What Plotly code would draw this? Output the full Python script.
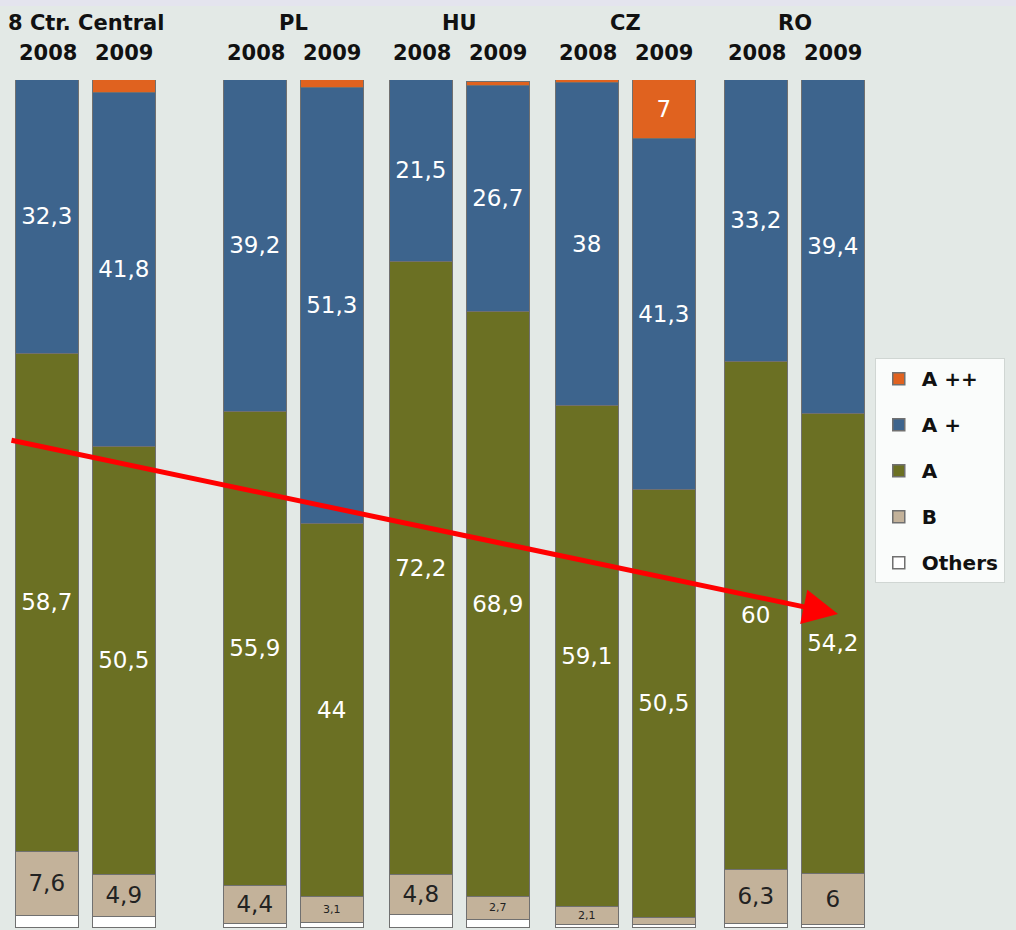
import plotly.graph_objects as go

groups = ["8 Ctr. Central", "PL", "HU", "CZ", "RO"]
years = ["2008", "2009"]

others = [1.4, 1.3, 0.5, 0.6, 1.5, 1.0, 0.4, 0.3, 0.5, 0.4]
b_vals = [7.6, 4.9, 4.4, 3.1, 4.8, 2.7, 2.1, 0.9, 6.3, 6.0]
a_vals = [58.7, 50.5, 55.9, 44.0, 72.2, 68.9, 59.1, 50.5, 60.0, 54.2]
aplus = [32.3, 41.8, 39.2, 51.3, 21.5, 26.7, 38.0, 41.3, 33.2, 39.4]
aplusplus = [0.0, 1.5, 0.0, 1.0, 0.0, 0.5, 0.4, 7.0, 0.0, 0.0]

b_labels = ["7,6", "4,9", "4,4", "3,1", "4,8", "2,7", "2,1", "", "6,3", "6"]
a_labels = ["58,7", "50,5", "55,9", "44", "72,2", "68,9", "59,1", "50,5", "60", "54,2"]
aplus_labels = ["32,3", "41,8", "39,2", "51,3", "21,5", "26,7", "38", "41,3", "33,2", "39,4"]
aplusplus_labels = ["", "", "", "", "", "", "", "7", "", ""]

# layout: horizontal positions in pixel-like units
group_starts = [47.5, 255.5, 421.5, 587.5, 756.5]
year_step = 76.5
bar_width = 63
xs = [gs + j * year_step for gs in group_starts for j in range(2)]

small = {"3,1", "2,7", "2,1"}
b_sizes = [11 if t in small else 23 for t in b_labels]

font_family = "DejaVu Sans"
border = dict(color="#707070", width=1.5)

fig = go.Figure()

def add(name, vals, color, labels, text_color, sizes, rank):
    fig.add_trace(go.Bar(
        x=xs, y=vals, name=name, width=bar_width,
        marker=dict(color=color, line=border),
        text=labels, textposition="inside", insidetextanchor="middle",
        textangle=0, constraintext="none",
        textfont=dict(color=text_color, size=sizes, family=font_family),
        legendgroup=name, legendrank=rank, hoverinfo="skip",
    ))

add("Others", others, "#ffffff", ["" for _ in others], "#222222", 12, 5)
add("B", b_vals, "#c3b29a", b_labels, "#222222", b_sizes, 4)
add("A", a_vals, "#6b7023", a_labels, "#ffffff", 23, 3)
add("A +", aplus, "#3d648d", aplus_labels, "#ffffff", 23, 2)
add("A ++", aplusplus, "#e0621f", aplusplus_labels, "#ffffff", 23, 1)

annotations = []
plot_h = 848
for gi, g in enumerate(groups):
    cx = group_starts[gi] + year_step / 2
    annotations.append(dict(x=cx, y=1 + 57 / plot_h, xref="x", yref="paper",
                            yanchor="middle", xanchor="center",
                            text="<b>%s</b>" % g, showarrow=False,
                            font=dict(size=21, color="#111111", family=font_family)))
    for j, yr in enumerate(years):
        annotations.append(dict(x=group_starts[gi] + j * year_step, y=1 + 27 / plot_h,
                                xref="x", yref="paper", yanchor="middle", xanchor="center",
                                text="<b>%s</b>" % yr, showarrow=False,
                                font=dict(size=21, color="#111111", family=font_family)))

# red arrow
annotations.append(dict(x=838, y=(928 - 614) / plot_h * 100, ax=10, ay=(928 - 440) / plot_h * 100,
                        xref="x", yref="y", axref="x", ayref="y", text="",
                        showarrow=True, arrowhead=2, arrowsize=1.4, arrowwidth=5,
                        arrowcolor="#ff0000"))

fig.update_layout(
    width=1016, height=930,
    barmode="stack", bargap=0,
    margin=dict(l=0, r=0, t=80, b=2),
    paper_bgcolor="#e3e9e6", plot_bgcolor="#e3e9e6",
    xaxis=dict(range=[0, 1016], visible=False, fixedrange=True),
    yaxis=dict(range=[0, 100], visible=False, fixedrange=True),
    showlegend=True,
    legend=dict(x=0.861, y=0.672, xanchor="left", yanchor="top",
                bgcolor="#fafcfb", bordercolor="#d0d6d3", borderwidth=1,
                traceorder="grouped", tracegroupgap=17,
                font=dict(size=20, color="#111111", family="DejaVu Sans", weight="bold"),
                itemwidth=36),
    shapes=[dict(type="rect", xref="paper", yref="paper", x0=0, x1=1,
                 y0=1 + 74 / plot_h, y1=1 + 80 / plot_h,
                 fillcolor="#e4e4ee", line=dict(width=0), layer="below")],
    annotations=annotations,
    uniformtext=dict(mode=False),
)

fig.write_html("out.html", config={"displayModeBar": False})

with open("out.html", "r", encoding="utf-8") as f:
    html = f.read()
html = html.replace("<head>", "<head><style>html,body{margin:0;padding:0;overflow:hidden;}</style>", 1)
with open("out.html", "w", encoding="utf-8") as f:
    f.write(html)
